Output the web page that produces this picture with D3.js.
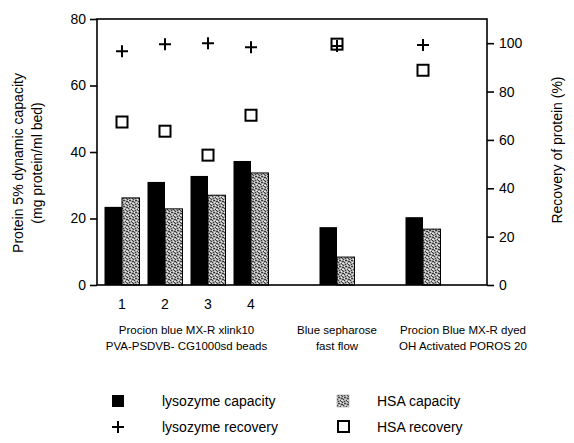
<!DOCTYPE html>
<html>
<head>
<meta charset="utf-8">
<script src="https://cdn.jsdelivr.net/npm/d3@7"></script>
<style>
  body { margin: 0; background: #fff; }
  svg { font-family: "Liberation Sans", Arial, Helvetica, sans-serif; }
</style>
</head>
<body>
<svg id="chart" width="574" height="443"></svg>
<script>
// values
var groups = ["1", "2", "3", "4", "Blue sepharose", "POROS"];
var lysozymeCapacity = [23.5, 31, 32.8, 37.3, 17.4, 20.4];
var hsaCapacity = [26.2, 22.9, 27, 33.7, 8.4, 16.8];
var lysozymeRecovery = [96.7, 99.6, 100, 98.3, 98.8, 99.2];
var hsaRecovery = [67.4, 63.6, 53.7, 70.2, 99.6, 88.8];
var numberLabels = ["1", "2", "3", "4"];
var leftTicks = [0, 20, 40, 60, 80];
var rightTicks = [0, 20, 40, 60, 80, 100];
var supportLabels = [
  ["Procion blue MX-R xlink10", "PVA-PSDVB- CG1000sd beads"],
  ["Blue sepharose", "fast flow"],
  ["Procion Blue MX-R dyed", "OH Activated POROS 20"]
];

var svg = d3.select("#chart");
var margin = {top: 19, left: 97};
var width = 390, height = 266;

// pattern for the stippled grey bars
var defs = svg.append("defs");
var pat = defs.append("pattern").attr("id", "stipple")
  .attr("patternUnits", "userSpaceOnUse").attr("width", 6).attr("height", 6);
pat.append("rect").attr("width", 6).attr("height", 6).attr("fill", "#a9a9a9");
[[0, 0], [3, 1], [5, 2], [1, 3], [4, 4], [2, 5], [5, 5], [2, 1], [0, 2]].forEach(function (p) {
  pat.append("rect").attr("x", p[0]).attr("y", p[1]).attr("width", 1).attr("height", 1).attr("fill", "#3a3a3a");
});
[[1, 1], [4, 0], [0, 4], [3, 3], [5, 4]].forEach(function (p) {
  pat.append("rect").attr("x", p[0]).attr("y", p[1]).attr("width", 1).attr("height", 1).attr("fill", "#e8e8e8");
});

var g = svg.append("g").attr("transform", "translate(" + margin.left + "," + margin.top + ")");

// slots: gaps between the support types
var slots = ["1", "2", "3", "4", "gapA", "Blue sepharose", "gapB", "POROS", "gapC"];
var x = d3.scalePoint().domain(slots).range([25, 25 + 43 * 8]);
var yL = d3.scaleLinear().domain([0, 80]).range([height, 0]);
var yR = d3.scaleLinear().domain([0, 110]).range([height, 0]);
var barW = 17.5;

var data = groups.map(function (k, i) {
  return {key: k, lc: lysozymeCapacity[i], hc: hsaCapacity[i], lr: lysozymeRecovery[i], hr: hsaRecovery[i]};
});

// bars
g.selectAll(".lys").data(data).enter().append("rect").attr("class", "lys")
  .attr("x", function (d) { return x(d.key) - barW; })
  .attr("y", function (d) { return yL(d.lc); })
  .attr("width", barW)
  .attr("height", function (d) { return yL(0) - yL(d.lc); })
  .attr("fill", "#000");

g.selectAll(".hsa").data(data).enter().append("rect").attr("class", "hsa")
  .attr("x", function (d) { return x(d.key); })
  .attr("y", function (d) { return yL(d.hc); })
  .attr("width", barW)
  .attr("height", function (d) { return yL(0) - yL(d.hc); })
  .attr("fill", "url(#stipple)").attr("stroke", "#000").attr("stroke-width", 1);

// frame
g.append("rect").attr("width", width).attr("height", height)
  .attr("fill", "none").attr("stroke", "#000").attr("stroke-width", 1.6);

// axes
var axL = g.append("g").call(d3.axisLeft(yL).tickValues(leftTicks).tickSize(7).tickPadding(4));
var axR = g.append("g").attr("transform", "translate(" + width + ",0)")
  .call(d3.axisRight(yR).tickValues(rightTicks).tickSize(7).tickPadding(5));
[axL, axR].forEach(function (a) {
  a.select(".domain").remove();
  a.selectAll("line").attr("stroke", "#000").attr("stroke-width", 1.6);
  a.selectAll("text").attr("font-size", 14).attr("fill", "#000")
    .attr("font-family", "'Liberation Sans', Arial, sans-serif");
});

// recovery markers
var sq = 11, cr = 6;
g.selectAll(".hr").data(data).enter().append("rect").attr("class", "hr")
  .attr("x", function (d) { return x(d.key) - sq / 2; })
  .attr("y", function (d) { return yR(d.hr) - sq / 2; })
  .attr("width", sq).attr("height", sq)
  .attr("fill", "#fff").attr("stroke", "#000").attr("stroke-width", 2);

g.selectAll(".lr").data(data).enter().append("path").attr("class", "lr")
  .attr("d", function (d) {
    var cx = x(d.key), cy = yR(d.lr);
    return "M" + (cx - cr) + "," + cy + "H" + (cx + cr) + "M" + cx + "," + (cy - cr) + "V" + (cy + cr);
  })
  .attr("stroke", "#000").attr("stroke-width", 2).attr("fill", "none");

// numbers under the first four groups
g.selectAll(".num").data(numberLabels).enter().append("text").attr("class", "num")
  .attr("x", function (d) { return x(d); })
  .attr("y", height + 24)
  .attr("text-anchor", "middle").attr("font-size", 14).text(function (d) { return d; });

// support labels
var labelX = [(x("1") + x("4")) / 2, x("Blue sepharose"), x("POROS") + 40];
supportLabels.forEach(function (lines, i) {
  lines.forEach(function (t, j) {
    g.append("text").attr("x", labelX[i]).attr("y", height + 49 + j * 16)
      .attr("text-anchor", "middle").attr("font-size", 11.5).text(t);
  });
});

// axis titles
svg.append("text").attr("transform", "translate(23,163) rotate(-90)")
  .attr("text-anchor", "middle").attr("font-size", 14).text("Protein 5% dynamic capacity");
svg.append("text").attr("transform", "translate(42,163) rotate(-90)")
  .attr("text-anchor", "middle").attr("font-size", 14).text("(mg protein/ml bed)");
svg.append("text").attr("transform", "translate(562,150) rotate(-90)")
  .attr("text-anchor", "middle").attr("font-size", 14).text("Recovery of protein (%)");

// legend
var leg = svg.append("g");
leg.append("rect").attr("x", 112).attr("y", 395).attr("width", 12).attr("height", 12).attr("fill", "#000");
leg.append("text").attr("x", 162).attr("y", 406).attr("font-size", 14).text("lysozyme capacity");
leg.append("rect").attr("x", 337).attr("y", 395).attr("width", 12).attr("height", 12)
  .attr("fill", "url(#stipple)").attr("stroke", "#888").attr("stroke-width", 0.5);
leg.append("text").attr("x", 377).attr("y", 406).attr("font-size", 14).text("HSA capacity");
leg.append("path").attr("d", "M112,427H124M118,421V433").attr("stroke", "#000").attr("stroke-width", 2);
leg.append("text").attr("x", 162).attr("y", 432).attr("font-size", 14).text("lysozyme recovery");
leg.append("rect").attr("x", 338).attr("y", 421).attr("width", 11).attr("height", 11)
  .attr("fill", "#fff").attr("stroke", "#000").attr("stroke-width", 2);
leg.append("text").attr("x", 377).attr("y", 432).attr("font-size", 14).text("HSA recovery");
</script>
</body>
</html>
